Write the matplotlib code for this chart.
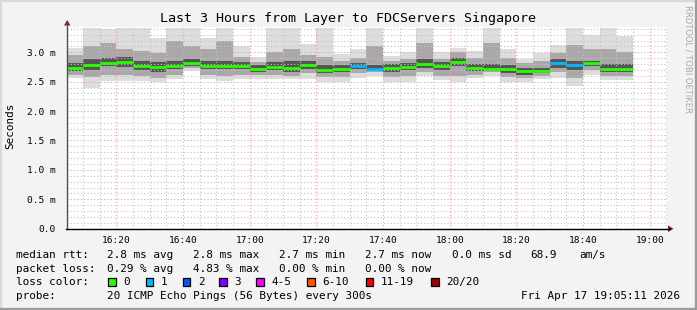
import numpy as np
import pandas as pd
import matplotlib
matplotlib.use("Agg")
import matplotlib.pyplot as plt
import matplotlib.dates as mdates
from matplotlib.lines import Line2D
from matplotlib.patches import Rectangle, Polygon
from matplotlib.ticker import FuncFormatter, MultipleLocator

W, H = 697, 310

# graph window and 5 minute rounds (end time of each round, first one clipped)
t_start = pd.Timestamp("2026-04-17 16:05:11")
t_end = pd.Timestamp("2026-04-17 19:05:11")
round_ends = pd.date_range("2026-04-17 16:10", "2026-04-17 18:55", freq="5min")

# median rtt per round (ms)
median = [2.73, 2.78, 2.82, 2.84, 2.77, 2.755, 2.77, 2.81, 2.77, 2.77,
          2.77, 2.72, 2.755, 2.74, 2.79, 2.70, 2.72, 2.767, 2.72, 2.73,
          2.755, 2.80, 2.77, 2.84, 2.73, 2.72, 2.72, 2.69, 2.68, 2.81,
          2.79, 2.81, 2.72, 2.72]
# smoke: outer (all pings), middle and inner bands (ms)
ping_max = [3.07, 3.41, 3.40, 3.41, 3.41, 3.25, 3.41, 3.41, 3.24, 3.41,
            3.11, 2.92, 3.41, 3.41, 3.14, 3.41, 2.97, 3.05, 3.41, 2.93,
            3.01, 3.41, 3.01, 3.07, 3.03, 3.41, 3.05, 2.89, 2.98, 3.12,
            3.41, 3.29, 3.41, 3.28]
ping_min = [2.56, 2.40, 2.52, 2.51, 2.52, 2.49, 2.55, 2.69, 2.55, 2.52,
            2.55, 2.55, 2.55, 2.55, 2.55, 2.49, 2.49, 2.57, 2.60, 2.50,
            2.50, 2.59, 2.53, 2.50, 2.56, 2.60, 2.50, 2.50, 2.55, 2.57,
            2.43, 2.61, 2.53, 2.53]
mid_hi = [2.95, 3.10, 3.15, 3.05, 3.03, 2.98, 3.20, 3.10, 3.05, 3.20,
          2.92, 2.84, 3.00, 3.05, 2.95, 2.92, 2.86, 2.90, 3.10, 2.85,
          2.88, 3.15, 2.88, 3.00, 2.90, 3.15, 2.90, 2.82, 2.85, 2.98,
          3.12, 3.05, 3.05, 3.00]
mid_lo = [2.62, 2.58, 2.62, 2.62, 2.60, 2.56, 2.62, 2.74, 2.62, 2.60,
          2.62, 2.62, 2.62, 2.60, 2.64, 2.58, 2.58, 2.64, 2.66, 2.58,
          2.60, 2.66, 2.60, 2.60, 2.62, 2.66, 2.58, 2.56, 2.60, 2.66,
          2.56, 2.70, 2.60, 2.60]
in_hi = [2.82, 2.88, 2.90, 2.92, 2.86, 2.84, 2.86, 2.88, 2.86, 2.86,
         2.84, 2.78, 2.84, 2.86, 2.86, 2.78, 2.78, 2.82, 2.78, 2.80,
         2.82, 2.88, 2.84, 2.90, 2.80, 2.80, 2.78, 2.74, 2.74, 2.88,
         2.86, 2.86, 2.80, 2.80]
in_lo = [2.68, 2.70, 2.76, 2.75, 2.70, 2.66, 2.72, 2.77, 2.72, 2.72,
         2.72, 2.67, 2.70, 2.66, 2.72, 2.64, 2.66, 2.72, 2.70, 2.66,
         2.70, 2.74, 2.70, 2.76, 2.68, 2.68, 2.64, 2.62, 2.64, 2.74,
         2.70, 2.76, 2.66, 2.66]
# lost pings (of 20) per round
lost = [0, 0, 0, 0, 0, 0, 0, 0, 0, 0, 0, 0, 0, 0, 0, 0, 0, 1, 1, 0,
        0, 0, 0, 0, 0, 0, 0, 0, 0, 1, 1, 0, 0, 0]

loss_labels = ["0", "1", "2", "3", "4-5", "6-10", "11-19", "20/20"]
loss_colors = ["#26ff00", "#00b8ff", "#0059ff", "#7e00ff", "#ff00ff",
               "#ff5500", "#ff0000", "#a10000"]

mono = "DejaVu Sans Mono"
BG = "#f3f3f3"


def fx(x):
    return x / W


def fy(y):
    return 1 - y / H


fig = plt.figure(figsize=(W / 100, H / 100), dpi=100, facecolor=BG)
ax = fig.add_axes([fx(67), fy(228.7), fx(600), (228.7 - 27) / H])
ax.set_facecolor("white")

edges = mdates.date2num([t_start] + list(round_ends))

# smoke
ax.stairs(ping_max, edges, baseline=ping_min, fill=True, color="#dddddd", lw=0, zorder=1)
ax.stairs(mid_hi, edges, baseline=mid_lo, fill=True, color="#a8a8a8", lw=0, zorder=1.1)
ax.stairs(in_hi, edges, baseline=in_lo, fill=True, color="#555555", lw=0, zorder=1.2)

# median line, one segment per round coloured by loss
for i, n in enumerate(lost):
    ax.hlines(median[i], edges[i], edges[i + 1], color=loss_colors[n], lw=2,
              zorder=3.2, capstyle="butt")

ax.set_xlim(mdates.date2num(t_start), mdates.date2num(t_end))
ax.set_ylim(0, 3.43)

ax.xaxis.set_major_locator(mdates.MinuteLocator(byminute=[0, 20, 40]))
ax.xaxis.set_minor_locator(mdates.MinuteLocator(byminute=range(0, 60, 5)))
ax.xaxis.set_major_formatter(mdates.DateFormatter("%H:%M"))
ax.yaxis.set_major_locator(MultipleLocator(0.5))
ax.yaxis.set_minor_locator(MultipleLocator(0.1))
ax.yaxis.set_major_formatter(FuncFormatter(lambda v, p: "0.0" if abs(v) < 1e-9 else "%.1f m" % v))

ax.grid(which="minor", color="#c4c4c4", lw=0.8, ls=(0, (1, 2)), zorder=2)
ax.grid(which="major", color="#ff9a9a", lw=0.8, ls=(0, (1, 2)), zorder=2.1)
ax.set_axisbelow(False)

for s in ["top", "right", "left", "bottom"]:
    ax.spines[s].set_visible(False)
ax.tick_params(which="both", length=0, labelsize=6.8, colors="black", pad=5)
ax.tick_params(axis="y", pad=8)
for lab in ax.get_xticklabels() + ax.get_yticklabels():
    lab.set_family(mono)

# axes with arrows
fig.add_artist(Line2D([fx(67), fx(67)], [fy(229), fy(22)], color="#505050", lw=1))
fig.add_artist(Line2D([fx(66), fx(670)], [fy(228.7), fy(228.7)], color="black", lw=1))
fig.add_artist(Polygon([[fx(64), fy(25.5)], [fx(70.5), fy(25.5)], [fx(67.2), fy(20)]],
                       closed=True, color="#8b1a1a", lw=0))
fig.add_artist(Polygon([[fx(668), fy(225.5)], [fx(668), fy(232)], [fx(673.5), fy(228.7)]],
                       closed=True, color="#8b1a1a", lw=0))

# frame
fig.add_artist(Line2D([0, 1], [fy(0.8), fy(0.8)], color="#dadada", lw=1.6))
fig.add_artist(Line2D([fx(0.8), fx(0.8)], [0, 1], color="#dadada", lw=1.6))
fig.add_artist(Line2D([0, 1], [fy(308.5), fy(308.5)], color="#9c9c9c", lw=2.4))
fig.add_artist(Line2D([fx(695.8), fx(695.8)], [0, 1], color="#9c9c9c", lw=2.4))

fig.text(fx(348), fy(18.5), "Last 3 Hours from Layer to FDCServers Singapore",
         family=mono, fontsize=9.6, ha="center", va="center")
fig.text(fx(10.5), fy(126), "Seconds", family=mono, fontsize=7.9,
         rotation=90, ha="center", va="center")
fig.text(fx(688), fy(59), "RRDTOOL / TOBI OETIKER", family="DejaVu Sans",
         fontsize=6, rotation=270, ha="center", va="center", color="#a8a8a8")

fs = 7.9
rows = [
    (255, [(16, "median rtt:"), (107.3, "2.8 ms avg"), (193.3, "2.8 ms max"),
           (279.3, "2.7 ms min"), (365, "2.7 ms now"), (451.7, "0.0 ms sd"),
           (530, "68.9"), (579.3, "am/s")]),
    (268.5, [(16, "packet loss:"), (107.3, "0.29 % avg"), (193.3, "4.83 % max"),
             (279.3, "0.00 % min"), (365, "0.00 % now")]),
    (282, [(16, "loss color:")]),
    (296, [(16, "probe:"), (107.3, "20 ICMP Echo Pings (56 Bytes) every 300s")]),
]
for y, items in rows:
    for x, s in items:
        fig.text(fx(x), fy(y), s, family=mono, fontsize=fs, ha="left", va="center")
fig.text(fx(680), fy(296), "Fri Apr 17 19:05:11 2026", family=mono, fontsize=fs,
         ha="right", va="center")

box_x = [108.3, 145.7, 182.7, 219.3, 256, 307.3, 365.7, 431]
for bx, lab, col in zip(box_x, loss_labels, loss_colors):
    fig.add_artist(Rectangle((fx(bx), fy(285.8)), fx(7.5), 8 / H, facecolor=col,
                             edgecolor="black", lw=0.9))
    fig.text(fx(bx + 15), fy(282), lab, family=mono, fontsize=fs, ha="left", va="center")

fig.savefig("out.png", dpi=100, facecolor=BG)
